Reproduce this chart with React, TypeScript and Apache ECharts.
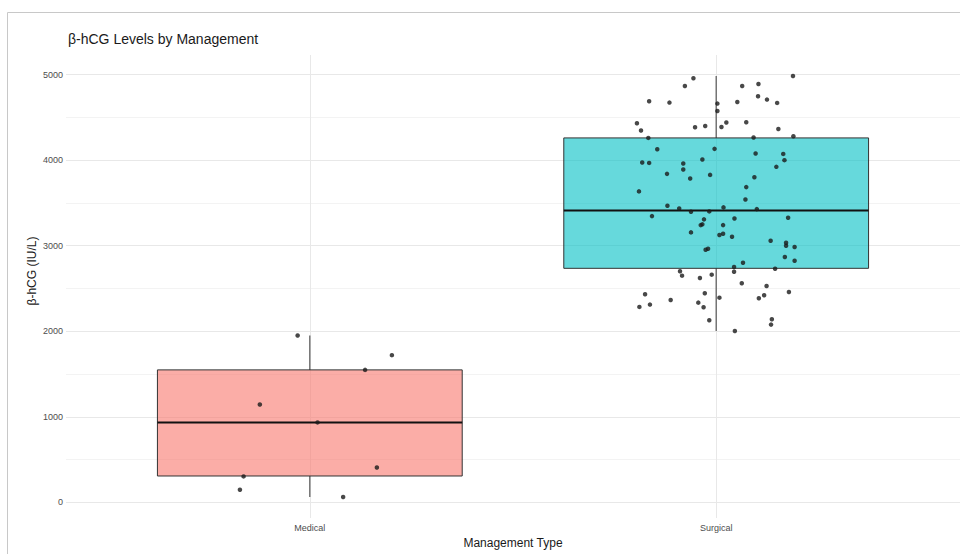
import React, { useEffect, useRef } from "react";
import * as echarts from "echarts";

const title = "β-hCG Levels by Management";
const yAxisTitle = "β-hCG (IU/L)";
const xAxisTitle = "Management Type";
const categories = ["Medical", "Surgical"];
const categoryPos = [1, 2];
const majorTicks = [0, 1000, 2000, 3000, 4000, 5000];
const minorTicks = [500, 1500, 2500, 3500, 4500];

// box stats per category: [whiskerLow, Q1, median, Q3, whiskerHigh]
const medicalBox = [63, 308, 934, 1548, 1949];
const surgicalBox = [2003, 2735, 3412, 4259, 4982];

// jittered points [x position (category + jitter), value]
const medicalPoints: number[][] = [
  [0.970, 1949], [1.202, 1720], [1.136, 1548], [0.877, 1144], [1.019, 934],
  [1.165, 408], [0.837, 303], [0.828, 148], [1.082, 63],
];
const surgicalPoints: number[][] = [
  [1.944, 4956], [1.923, 4866], [1.835, 4687], [1.885, 4672], [2.003, 4660],
  [2.003, 4574], [1.805, 4431], [1.815, 4345], [1.948, 4384], [1.973, 4399],
  [1.833, 4259], [1.855, 4127], [1.996, 4131], [1.818, 3972], [1.835, 3967],
  [1.919, 3960], [1.966, 4007], [1.919, 3890], [1.879, 3839], [1.936, 3785],
  [1.985, 3827], [1.810, 3634], [2.189, 4982], [2.104, 4889], [2.064, 4866],
  [2.103, 4746], [2.125, 4707], [2.150, 4668], [2.052, 4679], [2.025, 4439],
  [2.013, 4387], [2.074, 4442], [2.153, 4364], [2.092, 4264], [2.190, 4279],
  [2.097, 4077], [2.165, 4072], [2.168, 3999], [2.148, 3921], [2.094, 3800],
  [2.074, 3684], [2.072, 3540], [1.880, 3466], [1.909, 3435], [1.938, 3396],
  [1.983, 3400], [1.842, 3345], [1.970, 3307], [1.966, 3249], [1.962, 3240],
  [1.938, 3155], [2.008, 3124], [1.980, 2964], [1.974, 2952], [1.911, 2700],
  [1.916, 2649], [1.960, 2622], [1.989, 2661], [1.825, 2432], [1.837, 2311],
  [1.811, 2284], [1.888, 2365], [1.972, 2443], [1.956, 2334], [1.969, 2280],
  [1.983, 2128], [2.008, 2392], [2.018, 3447], [2.100, 3427], [2.045, 3318],
  [2.177, 3326], [2.017, 3240], [2.017, 3139], [2.039, 3104], [2.134, 3057],
  [2.172, 3034], [2.172, 2999], [2.193, 2984], [2.169, 2867], [2.193, 2824],
  [2.066, 2800], [2.044, 2750], [2.044, 2695], [2.145, 2730], [2.063, 2560],
  [2.124, 2529], [2.179, 2459], [2.118, 2420], [2.105, 2385], [2.137, 2140],
  [2.135, 2077], [2.046, 2003],
];

const fills = ["rgba(248,118,109,0.6)", "rgba(0,191,196,0.6)"];
const FONT = "'Liberation Sans', Arial, sans-serif";

export default function App() {
  const ref = useRef<HTMLDivElement>(null);
  useEffect(() => {
    if (!ref.current) return;
    const chart = echarts.init(ref.current, undefined, { renderer: "svg" });
    const boxData = [
      [categoryPos[0], ...medicalBox],
      [categoryPos[1], ...surgicalBox],
    ];
    const option: any = {
      animation: false,
      textStyle: { fontFamily: FONT },
      title: {
        text: title,
        left: 63,
        top: 27,
        textStyle: { fontFamily: FONT, fontSize: 14, fontWeight: "normal", color: "#1a1a1a" },
      },
      grid: { left: 66, right: 0, top: 55, bottom: 36, containLabel: false },
      xAxis: {
        type: "value",
        min: 0.4,
        max: 2.6,
        name: xAxisTitle,
        nameLocation: "middle",
        nameGap: 18,
        nameTextStyle: { fontFamily: FONT, fontSize: 12, color: "#1a1a1a" },
        axisLine: { show: false, onZero: false },
        axisTick: { show: false },
        splitLine: { show: false },
        axisLabel: {
          showMinLabel: false,
          showMaxLabel: false,
          margin: 5,
          fontSize: 9,
          color: "#4d4d4d",
          fontFamily: FONT,
          formatter: (v: number) => {
            const i = categoryPos.indexOf(v);
            return i >= 0 ? categories[i] : "";
          },
        },
      },
      yAxis: {
        type: "value",
        min: -183,
        max: 5228,
        splitNumber: 5,
        axisLine: { show: false, onZero: false },
        axisTick: { show: false },
        splitLine: { show: false },
        axisLabel: {
          showMinLabel: false,
          showMaxLabel: false,
          margin: 3,
          fontSize: 9,
          color: "#4d4d4d",
          fontFamily: FONT,
          formatter: (v: number) => String(v),
        },
      },
      graphic: [
        {
          type: "rect",
          shape: { x: 7.5, y: 12.5, width: 1000, height: 700 },
          style: { fill: "none", stroke: "#c8c8c8", lineWidth: 1 },
          silent: true,
        },
        {
          type: "text",
          x: 32,
          y: 271,
          rotation: Math.PI / 2,
          style: {
            text: yAxisTitle,
            fontFamily: FONT,
            fontSize: 12,
            fill: "#1a1a1a",
            align: "center",
            verticalAlign: "middle",
          },
        },
      ],
      series: [
        {
          type: "scatter",
          data: [],
          silent: true,
          z: 1,
          markLine: {
            silent: true,
            z: 1,
            symbol: "none",
            label: { show: false },
            data: [
              ...minorTicks.map((v) => ({ yAxis: v, lineStyle: { color: "#f3f3f3", width: 1, type: "solid" } })),
              ...majorTicks.map((v) => ({ yAxis: v, lineStyle: { color: "#e8e8e8", width: 1, type: "solid" } })),
              ...categoryPos.map((v) => ({ xAxis: v, lineStyle: { color: "#e8e8e8", width: 1, type: "solid" } })),
            ],
          },
        },
        {
          type: "custom",
          data: boxData,
          encode: { x: 0, y: [1, 2, 3, 4, 5] },
          renderItem: (params: any, api: any) => {
            const x = api.value(0);
            const idx = params.dataIndex;
            const lo = api.coord([x, api.value(1)]);
            const q1 = api.coord([x, api.value(2)]);
            const med = api.coord([x, api.value(3)]);
            const q3 = api.coord([x, api.value(4)]);
            const hi = api.coord([x, api.value(5)]);
            const left = api.coord([x - 0.375, 0])[0];
            const right = api.coord([x + 0.375, 0])[0];
            const cx = lo[0];
            const stroke = "#333333";
            return {
              type: "group",
              children: [
                { type: "line", shape: { x1: cx, y1: hi[1], x2: cx, y2: q3[1] }, style: { stroke: "#555", lineWidth: 1.2 } },
                { type: "line", shape: { x1: cx, y1: q1[1], x2: cx, y2: lo[1] }, style: { stroke: "#555", lineWidth: 1.2 } },
                {
                  type: "rect",
                  shape: { x: left, y: q3[1], width: right - left, height: q1[1] - q3[1] },
                  style: { fill: fills[idx], stroke, lineWidth: 1 },
                },
                { type: "line", shape: { x1: left, y1: med[1], x2: right, y2: med[1] }, style: { stroke: "#111", lineWidth: 2 } },
              ],
            };
          },
          z: 3,
        },
        {
          type: "scatter",
          data: medicalPoints,
          symbolSize: 4.5,
          itemStyle: { color: "#1a1a1a" },
          z: 5,
        },
        {
          type: "scatter",
          data: surgicalPoints,
          symbolSize: 4.5,
          itemStyle: { color: "#1a1a1a" },
          z: 5,
        },
      ],
    };
    chart.setOption(option);
    return () => chart.dispose();
  }, []);
  return <div ref={ref} style={{ width: 960, height: 554, position: "absolute", left: 0, top: 0 }} />;
}
